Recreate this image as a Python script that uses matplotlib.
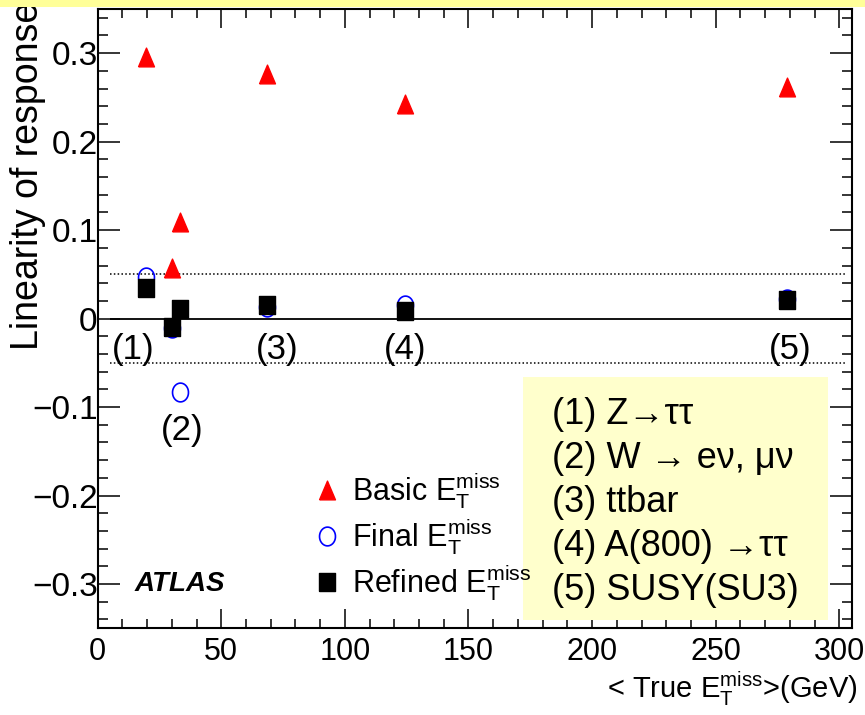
import numpy as np
import matplotlib
import matplotlib.pyplot as plt
from matplotlib.lines import Line2D
from matplotlib.patches import Rectangle

matplotlib.use("Agg")

# values
true_met = [19.5, 30.0, 33.3, 68.5, 124.5, 279.0]
basic = [0.296, 0.057, 0.109, 0.277, 0.243, 0.262]
final = [0.047, -0.011, -0.083, 0.013, 0.015, 0.022]
refined = [0.035, -0.009, 0.011, 0.015, 0.009, 0.021]

sample_tags = ["(1)", "(2)", "(3)", "(4)", "(5)"]
tag_x = [14.5, 34.0, 72.7, 124.4, 280.0]
tag_y = [-0.035, -0.127, -0.035, -0.035, -0.035]
sample_names = [
    "(1) Z\u2192\u03c4\u03c4",
    "(2) W \u2192 e\u03bd, \u03bc\u03bd",
    "(3) ttbar",
    "(4) A(800) \u2192\u03c4\u03c4",
    "(5) SUSY(SU3)",
]

y_ticks = [-0.3, -0.2, -0.1, 0.0, 0.1, 0.2, 0.3]
y_labels = ["\u22120.3", "\u22120.2", "\u22120.1", "0", "0.1", "0.2", "0.3"]
x_ticks = [0, 50, 100, 150, 200, 250, 300]
x_labels = ["0", "50", "100", "150", "200", "250", "300"]

FONT = ["Liberation Sans", "DejaVu Sans"]

plt.rcParams["font.family"] = FONT
plt.rcParams["mathtext.fontset"] = "custom"
plt.rcParams["mathtext.rm"] = "Liberation Sans"
plt.rcParams["mathtext.it"] = "Liberation Sans:italic"

# ROOT-like markers, slightly taller than wide
tri = [(-0.85, -1.0), (0.85, -1.0), (0.0, 1.0), (-0.85, -1.0)]
box = [(-0.82, -1.0), (0.82, -1.0), (0.82, 1.0), (-0.82, 1.0), (-0.82, -1.0)]
t = np.linspace(0, 2 * np.pi, 60)
ell = list(zip(0.85 * np.cos(t), np.sin(t)))

fig = plt.figure(figsize=(8.65, 7.15), dpi=100)
fig.patches.append(Rectangle((0, 1 - 7 / 715), 1, 7 / 715, transform=fig.transFigure,
                             facecolor="#FFFF99", edgecolor="none", zorder=0))
ax = fig.add_axes([0.1129, 0.1213, 0.8717, 0.8662])

ax.hlines(0, 5, 305, color="black", lw=1.3, zorder=1)
ax.hlines([-0.05, 0.05], 5, 303, color="black", lw=1.1, linestyles=(0, (1, 1.5)), zorder=1)

ax.plot(true_met, basic, ls="none", marker=tri, ms=13.5, color="red", mec="red", zorder=3)
ax.plot(true_met, final, ls="none", marker=ell, ms=13.5, mfc="none", mec="blue", mew=1.2, zorder=3)
ax.plot(true_met, refined, ls="none", marker=box, ms=13.5, color="black", zorder=4)

for lab, x, y in zip(sample_tags, tag_x, tag_y):
    ax.text(x, y, lab, ha="center", va="center", fontsize=25)

ax.text(15.1, -0.30, "ATLAS", fontsize=20, fontweight="bold", fontstyle="italic",
        ha="left", va="center")

ax.add_patch(Rectangle((0.564, 0.0134), 0.4046, 0.3924, transform=ax.transAxes,
                       facecolor="#FFFFCC", edgecolor="none", zorder=2))
ax.text(0.603, 0.3735, "\n".join(sample_names), transform=ax.transAxes, fontsize=26,
        ha="left", va="top", linespacing=1.33, zorder=3)

handles = [
    Line2D([], [], ls="none", marker=tri, ms=13.5, color="red"),
    Line2D([], [], ls="none", marker=ell, ms=13.5, mfc="none", mec="blue", mew=1.2),
    Line2D([], [], ls="none", marker=box, ms=13.5, color="black"),
]
labels = [r"Basic E$_\mathrm{T}^\mathrm{miss}$", r"Final E$_\mathrm{T}^\mathrm{miss}$",
          r"Refined E$_\mathrm{T}^\mathrm{miss}$"]
ax.legend(handles, labels, loc="upper left", bbox_to_anchor=(0.284, 0.255), frameon=False,
          prop={"size": 22}, handlelength=1.0, handletextpad=0.3,
          labelspacing=0.18, borderpad=0, borderaxespad=0)

ax.set_xlim(0, 305)
ax.set_ylim(-0.35, 0.35)
ax.set_xticks(x_ticks)
ax.set_xticklabels(x_labels, fontsize=22)
ax.set_xticks(np.arange(0, 305, 10), minor=True)
ax.set_yticks(y_ticks)
ax.set_yticklabels(y_labels, fontsize=24)
ax.set_yticks(np.arange(-0.34, 0.35, 0.02), minor=True)
ax.tick_params(which="both", direction="in", top=True, right=True, width=1.1, color="black")
ax.tick_params(axis="x", which="major", length=14, pad=6)
ax.tick_params(axis="x", which="minor", length=6.5)
ax.tick_params(axis="y", which="major", length=16, pad=0)
ax.tick_params(axis="y", which="minor", length=7.5)
for s in ax.spines.values():
    s.set_linewidth(1.5)

ax.set_xlabel(r"< True E$_\mathrm{T}^\mathrm{miss}$>(GeV)", loc="right",
              fontsize=21, labelpad=0)
ax.xaxis.set_label_coords(1.008, -0.066)
ax.set_ylabel("Linearity of response", loc="top", fontsize=27)
ax.yaxis.set_label_coords(-0.069, 1.012)

fig.savefig("out.png", dpi=100)
